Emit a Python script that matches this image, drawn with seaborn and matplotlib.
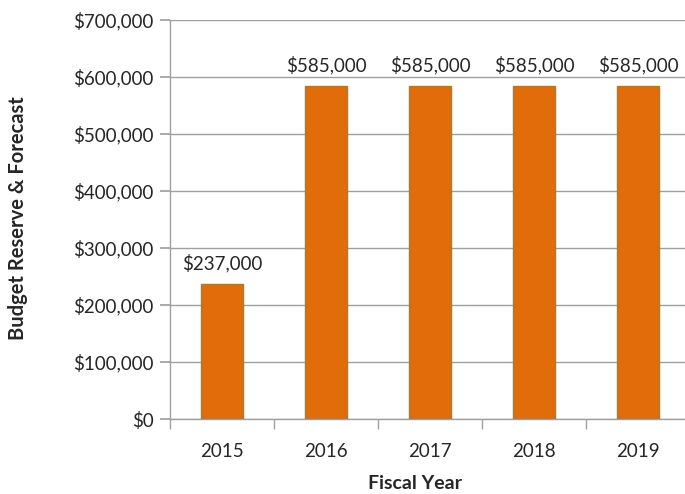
import matplotlib
matplotlib.use("Agg")
import matplotlib.pyplot as plt
import seaborn as sns
import pandas as pd
from matplotlib.ticker import FuncFormatter, FixedLocator

years = ["2015", "2016", "2017", "2018", "2019"]
values = [237000, 585000, 585000, 585000, 585000]
yticks = [0, 100000, 200000, 300000, 400000, 500000, 600000, 700000]

df = pd.DataFrame({"year": years, "value": values})

sns.set_theme(style="white")
plt.rcParams['font.family'] = ['Lato', 'DejaVu Sans']

fig = plt.figure(figsize=(6.85, 4.94), dpi=100)
ax = fig.add_axes([170/685, 75/494, 520/685, 399/494])

sns.barplot(data=df, x="year", y="value", ax=ax, color="#E36C0A",
            saturation=1, width=0.40, edgecolor="#9C7F3C", linewidth=1.0, zorder=3)

ax.set_xlim(-0.5, len(years) - 0.5)
ax.set_ylim(0, 700000)
ax.set_yticks(yticks)
ax.yaxis.set_major_formatter(FuncFormatter(lambda v, p: f"${int(v):,}"))
ax.yaxis.grid(True, color="#A0A0A0", linewidth=1.0, zorder=0)
ax.xaxis.grid(False)

for s in ["top", "right"]:
    ax.spines[s].set_visible(False)
for s in ["left", "bottom"]:
    ax.spines[s].set_color("#A0A0A0")
    ax.spines[s].set_linewidth(1.0)

fs = 13.5
ax.tick_params(axis="y", which="major", left=True, length=7, color="#A0A0A0",
               labelsize=fs, labelcolor="#262626", pad=5)
ax.tick_params(axis="x", which="major", bottom=False, labelsize=fs,
               labelcolor="#262626", pad=11)
ax.xaxis.set_minor_locator(FixedLocator([i - 0.5 for i in range(len(years) + 1)]))
ax.tick_params(axis="x", which="minor", bottom=True, length=7, color="#A0A0A0")

for i, v in enumerate(values):
    ax.annotate(f"${v:,}", (i, v), xytext=(0, 8), textcoords="offset points",
                ha="center", va="bottom", fontsize=fs, color="#262626")

ax.set_xlabel("Fiscal Year", fontsize=14, fontweight="bold", color="#262626")
ax.set_ylabel("Budget Reserve & Forecast", fontsize=14.5, fontweight="bold",
              color="#262626")
ax.xaxis.set_label_coords((415 - 170) / 520, -(475 - 419) / 399)
ax.yaxis.set_label_coords(-(170 - 28) / 520, (419 - 218) / 399)

fig.savefig("out.png", dpi=100)
